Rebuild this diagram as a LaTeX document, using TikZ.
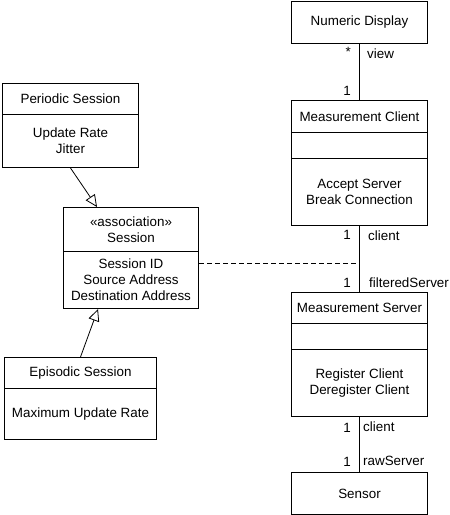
\documentclass[tikz,border=0pt]{standalone}
\usepackage{fontspec}
\setmainfont{Liberation Sans}
\usetikzlibrary{arrows.meta}
\begin{document}
\begin{tikzpicture}[x=1pt,y=-1pt,
  every node/.style={font=\fontsize{13.4}{16}\selectfont},
  comp/.style={draw,line width=1pt,minimum width=136pt,anchor=north west,inner sep=0pt,align=center},
  lbl/.style={inner sep=0pt},
  conn/.style={line width=0.9pt},
  gen/.style={line width=0.8pt,-{Triangle[open,length=12pt,width=11pt]}}]
\useasboundingbox (0,0) rectangle (450,515);
% Numeric Display
\node[comp,minimum height=42pt] (nd) at (291,1) {Numeric Display};
% Measurement Client
\node[comp,minimum height=32.5pt] (mctop) at (291,99.5) {Measurement Client};
\node[comp,minimum height=26pt] (mcmid) at (291,132) {};
\node[comp,minimum height=67pt] (mcbot) at (291,158) {Accept Server\\Break Connection};
% Measurement Server
\node[comp,minimum height=31pt] (mstop) at (291,292) {Measurement Server};
\node[comp,minimum height=26pt] (msmid) at (291,323) {};
\node[comp,minimum height=67pt] (msbot) at (291,349) {Register Client\\Deregister Client};
% Sensor
\node[comp,minimum height=42pt] (sensor) at (291,472) {Sensor};
% Periodic Session
\node[comp,minimum height=31pt] (pstop) at (2,83) {Periodic Session};
\node[comp,minimum height=53pt] (psbot) at (2,114) {Update Rate\\Jitter};
% Session
\node[comp,minimum width=135pt,minimum height=44pt] (sestop) at (63,207) {«association»\\Session};
\node[comp,minimum width=135pt,minimum height=57pt] (sesbot) at (63,251) {Session ID\\Source Address\\Destination Address};
% Episodic Session
\node[comp,minimum width=152pt,minimum height=31pt] (estop) at (4,357) {Episodic Session};
\node[comp,minimum width=152pt,minimum height=51pt] (esbot) at (4,388) {Maximum Update Rate};
% connectors
\draw[conn] (nd.south) -- (mctop.north);
\draw[conn] (mcbot.south) -- (mstop.north);
\draw[conn] (msbot.south) -- (sensor.north);
\coordinate (j) at (359,263);
\draw[conn,dashed,dash pattern=on 5pt off 3pt] (j -| sesbot.east) -- (j);
\draw[gen] (psbot.south) -- ([xshift=34pt]sestop.north west);
\draw[gen] (estop.north) -- ([xshift=35pt]sesbot.south west);
% labels
\node[lbl,anchor=east] at (351,52) {*};
\node[lbl,anchor=west] at (367,54) {view};
\node[lbl,anchor=east] at (351,91) {1};
\node[lbl,anchor=east] at (351,235) {1};
\node[lbl,anchor=west] at (368,236) {client};
\node[lbl,anchor=east] at (351,283) {1};
\node[lbl,anchor=west] at (369,283) {filteredServer};
\node[lbl,anchor=east] at (351,428) {1};
\node[lbl,anchor=west] at (363,427) {client};
\node[lbl,anchor=east] at (351,462) {1};
\node[lbl,anchor=west] at (363,461) {rawServer};
\end{tikzpicture}
\end{document}
